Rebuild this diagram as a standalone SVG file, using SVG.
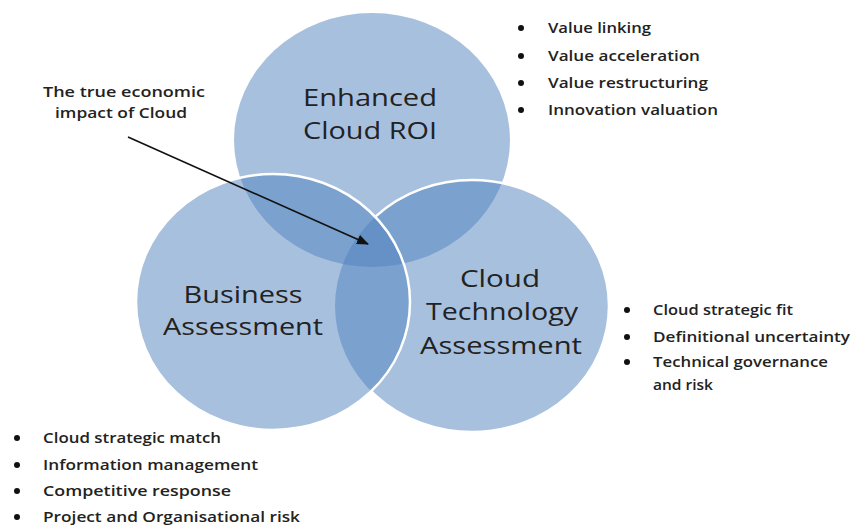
<svg xmlns="http://www.w3.org/2000/svg" width="856" height="529" viewBox="0 0 856 529">
<style>
.c{fill:#4f81bd;fill-opacity:0.5}
.lbl{font-family:"Open Sans","Noto Sans",sans-serif;font-size:24px;fill:#222;text-anchor:middle}
.li{font-family:"Open Sans","Noto Sans",sans-serif;font-size:13.5px;font-weight:600;fill:#222}
.call{font-family:"Open Sans","Noto Sans",sans-serif;font-size:13.5px;font-weight:600;fill:#222;text-anchor:middle}
.b{fill:#111}
</style>
<defs>
<mask id="notLeft" maskUnits="userSpaceOnUse" x="0" y="0" width="856" height="529">
<rect x="0" y="0" width="856" height="529" fill="#fff"/>
<ellipse cx="273" cy="302" rx="137" ry="128" fill="#000"/>
</mask>
<marker id="ah" markerWidth="12" markerHeight="10" refX="11" refY="5" orient="auto" markerUnits="userSpaceOnUse">
<path d="M0,0 L12,5 L0,10 Z" fill="#111"/>
</marker>
</defs>
<rect width="856" height="529" fill="#fff"/>
<g id="roi">
<ellipse class="c" cx="372" cy="140" rx="138" ry="127"/>
<text class="lbl" x="370" y="106" textLength="134" lengthAdjust="spacingAndGlyphs">Enhanced</text>
<text class="lbl" x="370" y="139" textLength="134" lengthAdjust="spacingAndGlyphs">Cloud ROI</text>
</g>
<g id="tech">
<ellipse class="c" cx="472" cy="306" rx="137" ry="126"/>
<ellipse cx="472" cy="306" rx="137" ry="126" fill="none" stroke="#fff" stroke-width="2.5" mask="url(#notLeft)"/>
<text class="lbl" x="500" y="287" textLength="80" lengthAdjust="spacingAndGlyphs">Cloud</text>
<text class="lbl" x="502" y="320" textLength="152" lengthAdjust="spacingAndGlyphs">Technology</text>
<text class="lbl" x="501" y="354" textLength="162" lengthAdjust="spacingAndGlyphs">Assessment</text>
</g>
<g id="business">
<ellipse class="c" cx="273" cy="302" rx="137" ry="128"/>
<ellipse cx="273" cy="302" rx="137" ry="128" fill="none" stroke="#fff" stroke-width="2.5"/>
<text class="lbl" x="243" y="303" textLength="119" lengthAdjust="spacingAndGlyphs">Business</text>
<text class="lbl" x="243" y="335" textLength="160" lengthAdjust="spacingAndGlyphs">Assessment</text>
</g>
<g id="roi-list">
<circle class="b" cx="521" cy="28" r="3"/>
<circle class="b" cx="521" cy="56" r="3"/>
<circle class="b" cx="521" cy="83" r="3"/>
<circle class="b" cx="521" cy="110" r="3"/>
<text class="li" x="548" y="33" textLength="103" lengthAdjust="spacingAndGlyphs">Value linking</text>
<text class="li" x="548" y="61" textLength="152" lengthAdjust="spacingAndGlyphs">Value acceleration</text>
<text class="li" x="548" y="88" textLength="160" lengthAdjust="spacingAndGlyphs">Value restructuring</text>
<text class="li" x="548" y="115" textLength="170" lengthAdjust="spacingAndGlyphs">Innovation valuation</text>
</g>
<g id="tech-list">
<circle class="b" cx="627" cy="310" r="3"/>
<circle class="b" cx="627" cy="337" r="3"/>
<circle class="b" cx="627" cy="362" r="3"/>
<text class="li" x="653" y="315" textLength="140" lengthAdjust="spacingAndGlyphs">Cloud strategic fit</text>
<text class="li" x="653" y="342" textLength="197" lengthAdjust="spacingAndGlyphs">Definitional uncertainty</text>
<text class="li" x="653" y="367" textLength="175" lengthAdjust="spacingAndGlyphs">Technical governance</text>
<text class="li" x="653" y="390" textLength="60" lengthAdjust="spacingAndGlyphs">and risk</text>
</g>
<g id="business-list">
<circle class="b" cx="17" cy="438" r="3"/>
<circle class="b" cx="17" cy="465" r="3"/>
<circle class="b" cx="17" cy="491" r="3"/>
<circle class="b" cx="17" cy="517" r="3"/>
<text class="li" x="43" y="443" textLength="178" lengthAdjust="spacingAndGlyphs">Cloud strategic match</text>
<text class="li" x="43" y="470" textLength="215" lengthAdjust="spacingAndGlyphs">Information management</text>
<text class="li" x="43" y="496" textLength="188" lengthAdjust="spacingAndGlyphs">Competitive response</text>
<text class="li" x="43" y="522" textLength="257" lengthAdjust="spacingAndGlyphs">Project and Organisational risk</text>
</g>
<g id="callout">
<text class="call" x="124" y="97" textLength="162" lengthAdjust="spacingAndGlyphs">The true economic</text>
<text class="call" x="121" y="118" textLength="132" lengthAdjust="spacingAndGlyphs">impact of Cloud</text>
</g>
<g id="connectors">
<line x1="128" y1="137" x2="368" y2="244" stroke="#111" stroke-width="1.6" marker-end="url(#ah)"/>
</g>
</svg>
